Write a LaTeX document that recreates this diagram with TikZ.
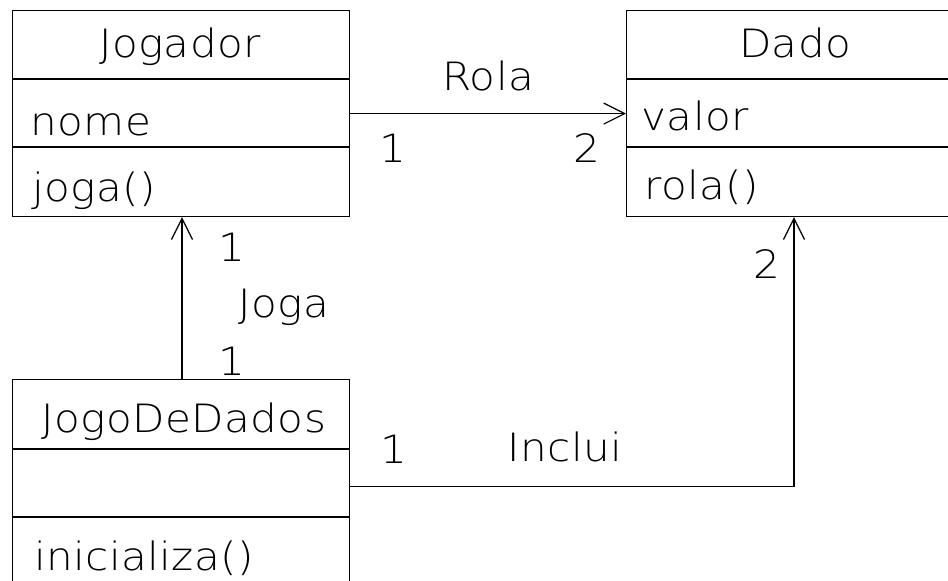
\documentclass[tikz,border=0pt]{standalone}
\usepackage{fontspec}
\setmainfont{DejaVu Sans ExtraLight}[FakeStretch=1.08,LetterSpace=1]
\usetikzlibrary{arrows.meta}
\begin{document}
\begin{tikzpicture}[x=1pt,y=-1pt,line width=1.2pt,
  cls/.style={draw, minimum width=337pt, minimum height=206pt, anchor=north west, inner sep=0pt},
  txt/.style={anchor=base, inner sep=0pt, font=\fontsize{39}{47}\selectfont},
  ltxt/.style={txt, anchor=base west},
  assoc/.style={-{Straight Barb[length=21pt,width=21pt,line width=1.2pt]}}]
\useasboundingbox (0,0) rectangle (948,581);
\clip (0,0) rectangle (948,581);
% classes
\node[cls] (jog) at (12,10) {};
\node[cls, minimum width=350pt] (dado) at (626,10) {};
\node[cls, minimum height=214pt] (jogo) at (12,379) {};
% compartments
\draw (12,79) -- (349,79) (12,147) -- (349,147);
\draw (626,79) -- (948,79) (626,147) -- (948,147);
\draw (12,449) -- (349,449) (12,517) -- (349,517);
% texts
\node[txt] (tJog) at (180,57) {Jogador};
\node[ltxt] (tNome) at (30,135) {nome};
\node[ltxt] (tJoga) at (32,201) {joga()};
\node[txt] (tDado) at (795,57) {Dado};
\node[ltxt] (tValor) at (641,130) {valor};
\node[ltxt] (tRolaM) at (644,199) {rola()};
\node[txt] (tJdd) at (184,432) {JogoDeDados};
\node[ltxt] (tIni) at (34,570) {inicializa()};
% associations
\draw[assoc] (jog.east) -- (dado.west);
\draw[assoc] ([xshift=170pt]jogo.north west) -- ([xshift=170pt]jog.south west);
\draw[assoc] (jogo.east) -| ([xshift=168pt]dado.south west);
% labels
\node[txt] (lRola) at (488,90) {Rola};
\node[txt] (m1) at (393,162) {1};
\node[txt] (m2) at (587,162) {2};
\node[txt] (m3) at (232,261) {1};
\node[txt] (lJoga) at (284,317) {Joga};
\node[txt] (m4) at (232,375) {1};
\node[txt] (m5) at (767,278) {2};
\node[txt] (m6) at (394,463) {1};
\node[txt] (lInclui) at (565,461) {Inclui};
\end{tikzpicture}
\end{document}
